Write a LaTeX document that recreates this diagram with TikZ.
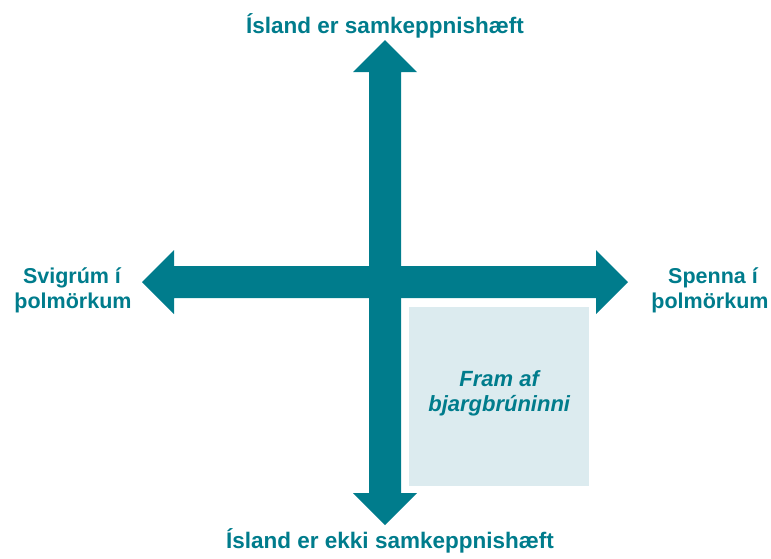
\documentclass[tikz,border=0pt]{standalone}
\usepackage{fontspec}
\setmainfont{Liberation Sans}
\definecolor{tealc}{HTML}{007C8C}
\definecolor{boxfill}{HTML}{DCEBEF}
\begin{document}
\begin{tikzpicture}[x=1pt,y=-1pt,
  lbl/.style={text=tealc,font=\bfseries\fontsize{22.5}{22.5}\selectfont,inner sep=0pt,align=center},
  slbl/.style={text=tealc,font=\bfseries\fontsize{21.5}{21.5}\selectfont,inner sep=0pt,align=center},
  axis/.style={fill=tealc},
  quad/.style={fill=boxfill,inner sep=0pt,minimum width=180pt,minimum height=179pt},
  quadtext/.style={text=tealc,inner sep=0pt,font=\bfseries\itshape\fontsize{22}{25}\selectfont,align=center}]
\useasboundingbox (0,0) rectangle (771,558);
% vertical double arrow
\coordinate (vt) at (385,40);
\coordinate (vb) at (385,525);
\fill[axis] (vt) -- (417,72) -- (401,72) -- (401,493) -- (417,493) -- (vb) -- (353,493) -- (369,493) -- (369,72) -- (353,72) -- cycle;
% horizontal double arrow
\coordinate (hl) at (142,282);
\coordinate (hr) at (628,282);
\fill[axis] (hl) -- (174,250) -- (174,266) -- (596,266) -- (596,250) -- (hr) -- (596,314) -- (596,298) -- (174,298) -- (174,314) -- cycle;
% labels
\node[lbl,anchor=base] (top) at (385,33) {Ísland er samkeppnishæft};
\node[lbl,anchor=base] (bot) at (390,548) {Ísland er ekki samkeppnishæft};
\node[slbl,anchor=base] (lt1) at (72,283) {Svigrúm í};
\node[slbl,anchor=base] (lt2) at (73,308) {þolmörkum};
\node[slbl,anchor=base] (rt1) at (713,283) {Spenna í};
\node[slbl,anchor=base] (rt2) at (710,308) {þolmörkum};
% quadrant box
\node[quad,anchor=north west] (box) at (409,307) {};
\node[quadtext] (boxtext) at ([yshift=3pt]box.center) {Fram af\\bjargbrúninni};
\end{tikzpicture}
\end{document}
